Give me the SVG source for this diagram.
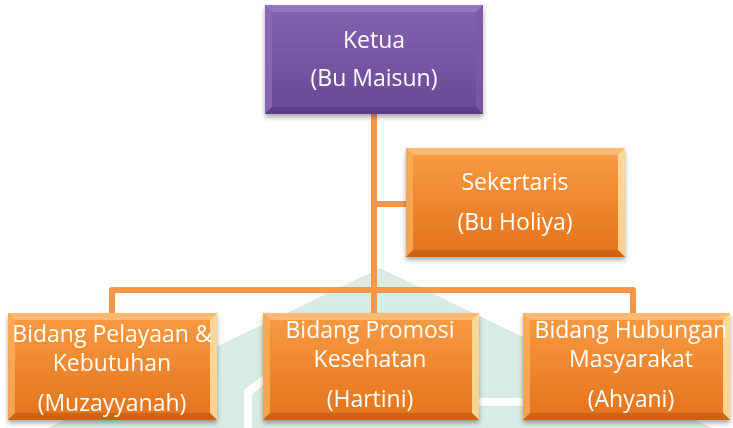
<svg xmlns="http://www.w3.org/2000/svg" width="733" height="428" viewBox="0 0 733 428">
<style>
  .t { font-family: "Open Sans", "Noto Sans", "DejaVu Sans", sans-serif; font-size: 23px; fill: #ffffff; text-anchor: middle; }
  .conn { stroke: #F79646; stroke-width: 6; fill: none; stroke-linejoin: round; }
</style>
<defs>
  <linearGradient id="gO" x1="0" y1="0" x2="0" y2="1">
    <stop offset="0" stop-color="#F99C43"/>
    <stop offset="1" stop-color="#E3731C"/>
  </linearGradient>
  <linearGradient id="gP" x1="0" y1="0" x2="0" y2="1">
    <stop offset="0" stop-color="#8463B0"/>
    <stop offset="1" stop-color="#694894"/>
  </linearGradient>
  <filter id="sh" x="-10%" y="-10%" width="120%" height="130%">
    <feGaussianBlur in="SourceAlpha" stdDeviation="2.5"/>
    <feOffset dx="0" dy="3"/>
    <feComponentTransfer><feFuncA type="linear" slope="0.35"/></feComponentTransfer>
    <feMerge><feMergeNode/><feMergeNode in="SourceGraphic"/></feMerge>
  </filter>
</defs>
<rect width="733" height="428" fill="#ffffff"/>
<g id="watermark">
  <polygon points="380,268 48,428 712,428" fill="#d8ece3"/>
  <polyline points="248,428 248,392 290,360" fill="none" stroke="#ffffff" stroke-width="8"/>
  <line x1="476" y1="402" x2="526" y2="402" stroke="#ffffff" stroke-width="8"/>
</g>
<g id="connectors">
  <line class="conn" x1="374" y1="112" x2="374" y2="316"/>
  <line class="conn" x1="374" y1="204" x2="408" y2="204"/>
  <polyline class="conn" points="112,316 112,290 633,290 633,316"/>
</g>
<g id="ketua" filter="url(#sh)">
  <rect x="265" y="5" width="218" height="109" fill="url(#gP)"/>
  <polygon points="265,5 483,5 476,12 272,12" fill="#9A7CC4" opacity="0.8"/>
  <polygon points="265,5 272,12 272,107 265,114" fill="#8C6CB8" opacity="0.8"/>
  <polygon points="483,5 483,114 476,107 476,12" fill="#7A5AA6" opacity="0.8"/>
  <polygon points="265,114 483,114 476,107 272,107" fill="#5A3C84" opacity="0.8"/>
  <text class="t" x="374" y="48">Ketua</text>
  <text class="t" x="374" y="86">(Bu Maisun)</text>
</g>
<g id="sekertaris" filter="url(#sh)">
  <rect x="406" y="148" width="219" height="109" fill="url(#gO)"/>
  <polygon points="406,148 625,148 618,155 413,155" fill="#FDC07A" opacity="0.85"/>
  <polygon points="406,148 413,155 413,250 406,257" fill="#FAAE5E" opacity="0.8"/>
  <polygon points="625,148 625,257 618,250 618,155" fill="#FFE3A8" opacity="0.85"/>
  <polygon points="406,257 625,257 618,250 413,250" fill="#C9600F" opacity="0.8"/>
  <text class="t" x="515" y="190">Sekertaris</text>
  <text class="t" x="515" y="230">(Bu Holiya)</text>
</g>
<g id="pelayanan" filter="url(#sh)">
  <rect x="8" y="313" width="209" height="107" fill="url(#gO)"/>
  <polygon points="8,313 217,313 210,320 15,320" fill="#FDC07A" opacity="0.85"/>
  <polygon points="8,313 15,320 15,413 8,420" fill="#FAAE5E" opacity="0.8"/>
  <polygon points="217,313 217,420 210,413 210,320" fill="#FFE3A8" opacity="0.85"/>
  <polygon points="8,420 217,420 210,413 15,413" fill="#C9600F" opacity="0.8"/>
  <text class="t" x="112" y="342">Bidang Pelayaan &amp;</text>
  <text class="t" x="112" y="371">Kebutuhan</text>
  <text class="t" x="112" y="411">(Muzayyanah)</text>
</g>
<g id="promosi" filter="url(#sh)">
  <rect x="263" y="313" width="216" height="107" fill="url(#gO)"/>
  <polygon points="263,313 479,313 472,320 270,320" fill="#FDC07A" opacity="0.85"/>
  <polygon points="263,313 270,320 270,413 263,420" fill="#FAAE5E" opacity="0.8"/>
  <polygon points="479,313 479,420 472,413 472,320" fill="#FFE3A8" opacity="0.85"/>
  <polygon points="263,420 479,420 472,413 270,413" fill="#C9600F" opacity="0.8"/>
  <text class="t" x="370" y="338">Bidang Promosi</text>
  <text class="t" x="370" y="367">Kesehatan</text>
  <text class="t" x="370" y="407">(Hartini)</text>
</g>
<g id="hubungan" filter="url(#sh)">
  <rect x="523" y="313" width="207" height="107" fill="url(#gO)"/>
  <polygon points="523,313 730,313 723,320 530,320" fill="#FDC07A" opacity="0.85"/>
  <polygon points="523,313 530,320 530,413 523,420" fill="#FAAE5E" opacity="0.8"/>
  <polygon points="730,313 730,420 723,413 723,320" fill="#FFE3A8" opacity="0.85"/>
  <polygon points="523,420 730,420 723,413 530,413" fill="#C9600F" opacity="0.8"/>
  <text class="t" x="631" y="338">Bidang Hubungan</text>
  <text class="t" x="631" y="367">Masyarakat</text>
  <text class="t" x="631" y="407">(Ahyani)</text>
</g>
</svg>
